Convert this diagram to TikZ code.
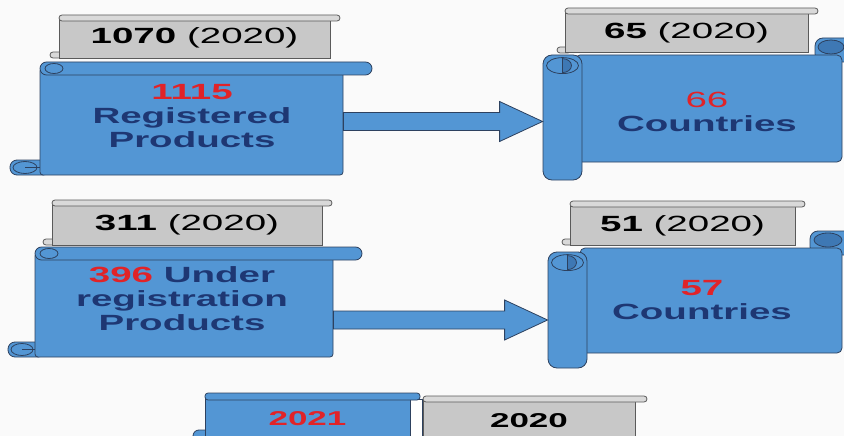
\documentclass[tikz,border=0pt]{standalone}
\usepackage{fontspec}
\setmainfont{Liberation Sans}[FakeStretch=1.75]
\usetikzlibrary{calc}
\definecolor{scrollblue}{RGB}{83,150,212}
\definecolor{scrolldark}{RGB}{62,120,180}
\definecolor{scrolledge}{RGB}{45,65,95}
\definecolor{textblue}{RGB}{30,55,115}
\definecolor{numred}{RGB}{225,35,40}
\definecolor{tabgray}{RGB}{200,200,200}
\definecolor{tabedge}{RGB}{90,90,90}
\tikzset{
  bluebody/.style={fill=scrollblue, draw=scrolledge, line width=0.8pt, inner sep=0pt},
  bluebar/.style={fill=scrollblue, draw=scrolledge, line width=0.8pt},
  graybody/.style={fill=tabgray, draw=tabedge, line width=0.8pt, inner sep=0pt},
  graybar/.style={fill=tabgray!70!white, draw=tabedge, line width=0.8pt, rounded corners=3pt},
  curl/.style={draw=scrolledge, line width=0.8pt},
  bigtext/.style={font=\bfseries\fontsize{22}{24}\selectfont, text=textblue, align=center},
  tabtext/.style={font=\fontsize{22}{24}\selectfont, text=black},
  blockarrow/.style={fill=scrollblue, draw=scrolledge, line width=0.8pt}
}
\begin{document}
\begin{tikzpicture}[x=1pt,y=-1pt]
\useasboundingbox (0,0) rectangle (844,436);
\clip (0,0) rectangle (844,436);
\fill[gray!4] (0,0) rectangle (844,436);

% registered products
\draw[graybar] (50,52) rectangle (66,58);
\node[graybody, tabtext, minimum width=271pt, minimum height=40pt] (tab1) at (194.5,38) {\textbf{1070} (2020)};
\draw[graybar] (59,15) rectangle (340,21);
\draw[bluebar, rounded corners=7pt] (10,160) rectangle (50,175);
\node[bluebody, rounded corners=3pt, minimum width=303pt, minimum height=107pt] (reg) at (191.5,121.5) {};
\draw[bluebar, rounded corners=6.5pt] (40,62) rectangle (372,75);
\draw[curl] (54,68.5) ellipse [x radius=9pt, y radius=5pt];
\draw[curl] (25,167.5) ellipse [x radius=12pt, y radius=6pt];
\draw[curl] (25,167.5) -- (40,167.5);
\node[bigtext] (regtext) at (192,116) {\textcolor{numred}{1115}\\Registered\\Products};

% countries of registered products
\draw[graybar] (557,47) rectangle (571,53);
\node[graybody, tabtext, minimum width=243pt, minimum height=39pt] (tab2) at (686.5,32.5) {\textbf{65} (2020)};
\draw[graybar] (565,8) rectangle (818,14);
\draw[bluebar, rounded corners=8pt] (815,38) rectangle (852,62);
\draw[curl, fill=scrolldark] (831,47) ellipse [x radius=13pt, y radius=7pt];
\node[bluebody, rounded corners=5pt, minimum width=267pt, minimum height=107pt] (cty1) at (708.5,108.5) {};
\node[bluebody, rounded corners=9pt, minimum width=39pt, minimum height=125pt] (roll1) at (562.5,117.5) {};
\draw[curl] ([yshift=-11pt]roll1.north) ellipse [x radius=16pt, y radius=8pt];
\draw[curl, fill=scrolldark] ([yshift=-11pt]roll1.north) ++(0pt,7pt) arc[start angle=90, end angle=-90, x radius=9pt, y radius=7pt] -- cycle;
\node[bigtext] (cty1text) at (707,112) {\textcolor{numred}{\mdseries 66}\\Countries};

% under registration products
\draw[graybar] (43,239) rectangle (58,245);
\node[graybody, tabtext, minimum width=270pt, minimum height=40pt] (tab3) at (187,225) {\textbf{311} (2020)};
\draw[graybar] (52,200) rectangle (332,206);
\draw[bluebar, rounded corners=7pt] (8,342) rectangle (45,357);
\node[bluebody, rounded corners=3pt, minimum width=298pt, minimum height=104pt] (und) at (184,305) {};
\draw[bluebar, rounded corners=6.5pt] (35,247) rectangle (362,260);
\draw[curl] (49,253.5) ellipse [x radius=9pt, y radius=5pt];
\draw[curl] (22,349.5) ellipse [x radius=11pt, y radius=6pt];
\draw[curl] (22,349.5) -- (35,349.5);
\node[bigtext] (undtext) at (182,299) {\textcolor{numred}{396} Under\\registration\\Products};

% countries of products under registration
\draw[graybar] (562,239) rectangle (576,245);
\node[graybody, tabtext, minimum width=225pt, minimum height=39pt] (tab4) at (682.5,225.5) {\textbf{51} (2020)};
\draw[graybar] (570,201) rectangle (805,207);
\draw[bluebar, rounded corners=8pt] (810,231) rectangle (852,255);
\draw[curl, fill=scrolldark] (828,240) ellipse [x radius=14pt, y radius=7pt];
\node[bluebody, rounded corners=5pt, minimum width=262pt, minimum height=105pt] (cty2) at (711,300.5) {};
\node[bluebody, rounded corners=9pt, minimum width=39pt, minimum height=116pt] (roll2) at (567.5,310) {};
\draw[curl] ([yshift=-11pt]roll2.north) ellipse [x radius=16pt, y radius=8pt];
\draw[curl, fill=scrolldark] ([yshift=-11pt]roll2.north) ++(0pt,7pt) arc[start angle=90, end angle=-90, x radius=9pt, y radius=7pt] -- cycle;
\node[bigtext] (cty2text) at (702,300.5) {\textcolor{numred}{57}\\Countries};

% arrows
\foreach \src/\dst/\dy in {reg/roll1/0, und/roll2/-15}
  \draw[blockarrow] let \p1=([yshift=\dy pt]\src.east), \p2=(\dst.west) in
    (\x1,\y1+9pt) -- (\x2-43pt,\y1+9pt) -- (\x2-43pt,\y1+20pt) -- (\x2,\y1)
    -- (\x2-43pt,\y1-20pt) -- (\x2-43pt,\y1-9pt) -- (\x1,\y1-9pt) -- cycle;

% legend
\draw[bluebar, rounded corners=6pt] (193,430) rectangle (220,444);
\node[bluebody, minimum width=205pt, minimum height=44pt, font=\bfseries\fontsize{20}{22}\selectfont, text=numred] (new) at (307.5,419) {2021};
\draw[fill=white, draw=scrolledge, line width=0.8pt] (410,399) rectangle (422,440);
\draw[bluebar, rounded corners=3pt] (205,393) rectangle (420,400);
\node[graybody, minimum width=212pt, minimum height=42pt, font=\bfseries\fontsize{20}{22}\selectfont] (old) at (529,421) {2020};
\draw[graybar] (423,396) rectangle (647,402);
\end{tikzpicture}
\end{document}
